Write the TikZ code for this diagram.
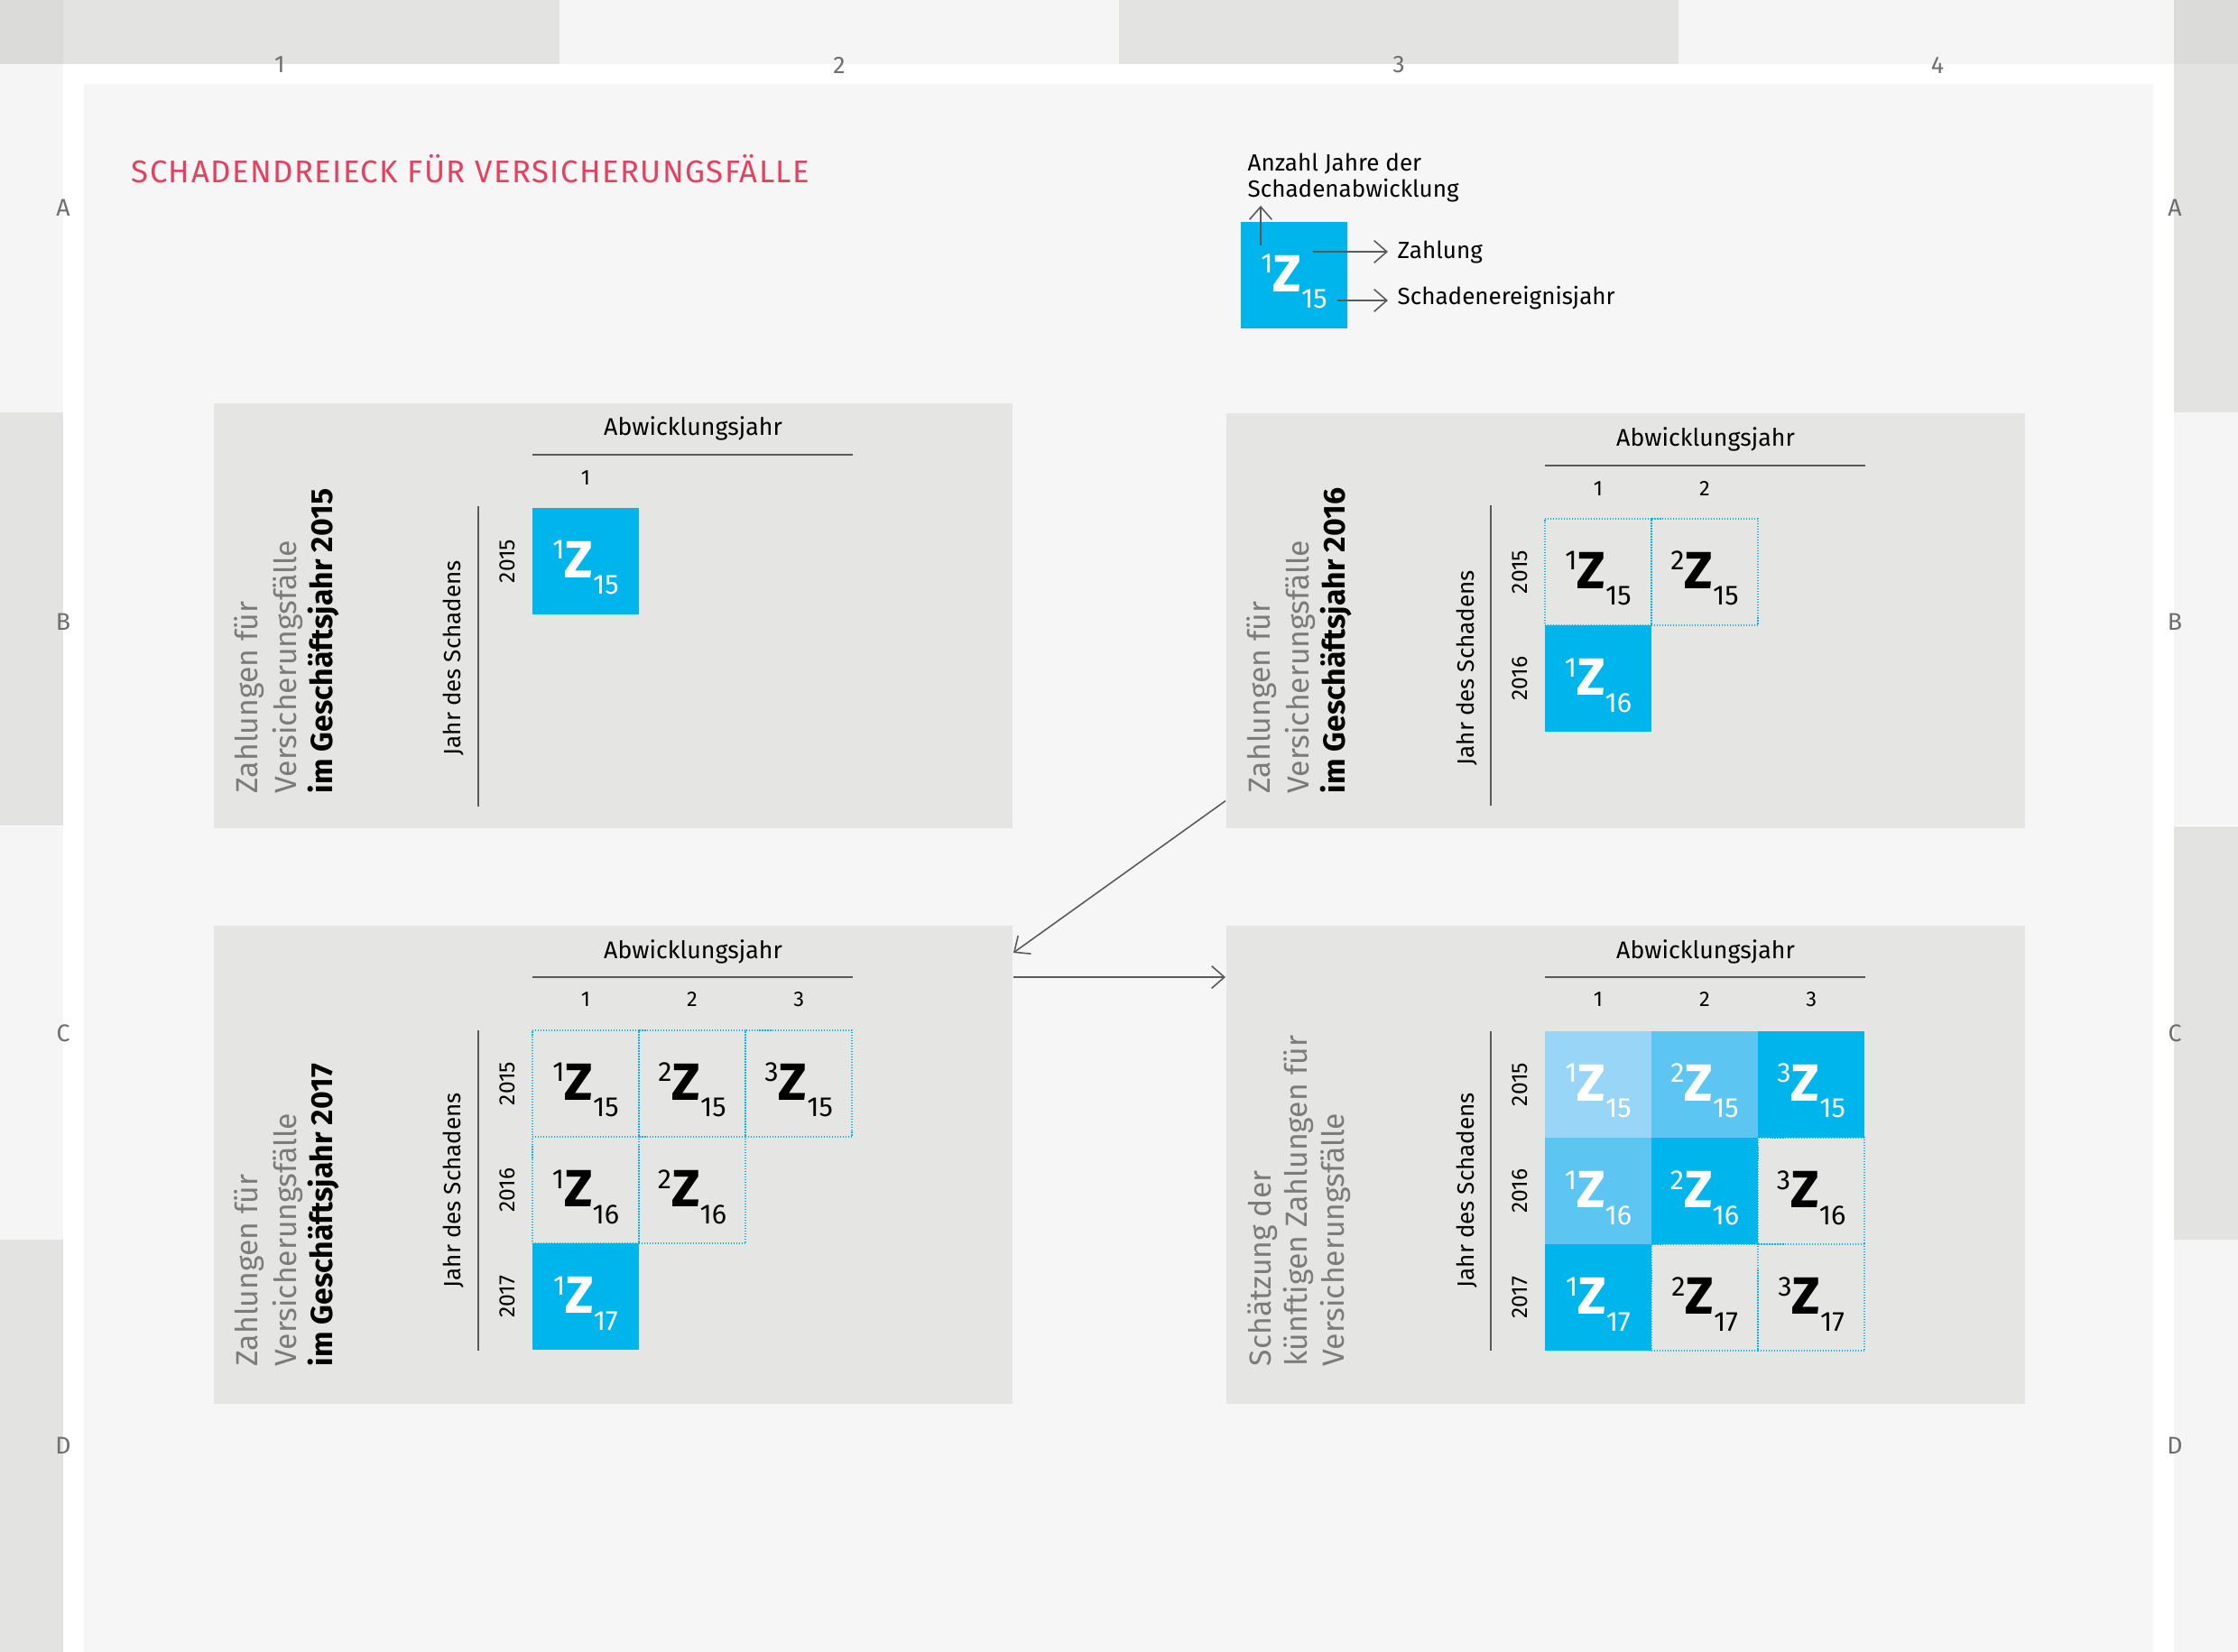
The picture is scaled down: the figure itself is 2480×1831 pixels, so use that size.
\documentclass[tikz,border=0pt]{standalone}
\usepackage{fontspec}
\setmainfont{Fira Sans}
\newfontfamily\titelschrift{Fira Sans}[LetterSpace=4.0]
\usepackage{tikz}
\usetikzlibrary{arrows.meta,positioning}

\definecolor{randgrau}{HTML}{E3E3E1}
\definecolor{randhell}{HTML}{F5F5F5}
\definecolor{randecke}{HTML}{DBDBD9}
\definecolor{flaeche}{HTML}{F6F6F6}
\definecolor{kastengrau}{HTML}{E5E5E3}
\definecolor{zblau}{HTML}{00B5EC}
\definecolor{zmittel}{HTML}{5CC5F2}
\definecolor{zhell}{HTML}{98D5F6}
\definecolor{titelrot}{HTML}{E5405F}
\definecolor{textgrau}{HTML}{7B7B7B}
\definecolor{randtext}{HTML}{6E6E6E}
\definecolor{linie}{HTML}{5A5A5A}

\newcommand{\zfeld}[2]{{\fontsize{8.7pt}{9pt}\selectfont\raisebox{5.7pt}{#1}}%
  {\fontsize{16.5pt}{17pt}\selectfont\bfseries Z}%
  {\fontsize{8.7pt}{9pt}\selectfont\raisebox{-5.4pt}{#2}}}

\begin{document}
\begin{tikzpicture}[x=0.01cm,y=-0.01cm,>={Straight Barb[length=4pt,width=7pt]},
                    node distance=1.18cm]
  \tikzstyle{kasten}=[fill=kastengrau,anchor=north west,minimum width=8.85cm,inner sep=0pt]
  \tikzstyle{zelle}=[minimum size=1.18cm,inner sep=0pt,text height=0.5cm,text depth=0.14cm]
  \tikzstyle{leer}=[zelle,draw=zblau,line width=0.45pt,dash pattern=on 0.3pt off 0.55pt,text=black]
  \tikzstyle{voll}=[zelle,fill=zblau,text=white]
  \tikzstyle{mittel}=[zelle,fill=zmittel,text=white]
  \tikzstyle{hell}=[zelle,fill=zhell,text=white]
  \tikzstyle{kopf}=[anchor=base,inner sep=0pt,font=\fontsize{7.6pt}{9pt}\selectfont]
  \tikzstyle{spalte}=[inner sep=0pt,font=\fontsize{6.7pt}{8pt}\selectfont]
  \tikzstyle{jahr}=[rotate=90,inner sep=0pt,font=\fontsize{7pt}{8pt}\selectfont]
  \tikzstyle{jahrtext}=[rotate=90,inner sep=0pt,font=\fontsize{7.4pt}{9pt}\selectfont]
  \tikzstyle{gross}=[rotate=90,anchor=base west,inner sep=0pt,text=textgrau,
                     font=\fontsize{9.6pt}{12pt}\selectfont]
  \tikzstyle{grossfett}=[gross,text=black,font=\fontsize{9.6pt}{12pt}\selectfont\bfseries]
  \tikzstyle{legende}=[anchor=base west,inner sep=0pt,font=\fontsize{7.4pt}{9pt}\selectfont]
  \tikzstyle{randziffer}=[inner sep=0pt,text=randtext,font=\fontsize{7.6pt}{9pt}\selectfont]
  \tikzstyle{achse}=[draw=linie,line width=0.45pt]
  \tikzstyle{pfeil}=[->,draw=linie,line width=0.45pt]

  \useasboundingbox (0,0) rectangle (2480,1831);
  \fill[white] (0,0) rectangle (2480,1831);

  % Rasterrand
  \foreach \x/\f in {70/randgrau,620/randhell,1240/randgrau,1860/randhell}
    \fill[\f] (\x,0) rectangle ++(620,71);
  \foreach \y/\l/\r in {71/randhell/randgrau,457/randgrau/randhell,
                        916/randhell/randgrau,1374/randgrau/randhell} {
    \fill[\l] (0,\y) rectangle ++(70,458);
    \fill[\r] (2409,\y) rectangle ++(71,458);
  }
  \fill[randecke] (0,0) rectangle (70,71);
  \fill[randecke] (2409,0) rectangle (2480,71);
  \foreach \n/\x in {1/310,2/930,3/1550,4/2147}
    \node[randziffer] (sp\n) at (\x,72) {\n};
  \foreach \b/\y in {A/230,B/689,C/1145,D/1602} {
    \node[randziffer] (li\b) at (70,\y) {\b};
    \node[randziffer] (re\b) at (2410,\y) {\b};
  }
  \fill[flaeche] (93,93) rectangle (2386,1831);

  \node[anchor=base west,inner sep=0pt,text=titelrot,
        font=\titelschrift\fontsize{9.9pt}{12pt}\selectfont]
        (titel) at (145,203) {SCHADENDREIECK FÜR VERSICHERUNGSFÄLLE};

  % Legende
  \node[voll] (leg) at (1434,305) {\zfeld{1}{15}};
  \coordinate (auf1) at (1397,272);
  \coordinate (auf2) at (1397,228);
  \coordinate (za1) at (1455,279);
  \coordinate (za2) at (1538,279);
  \coordinate (se1) at (1482,333);
  \coordinate (se2) at (1538,333);
  \draw[pfeil] (auf1) -- (auf2);
  \draw[pfeil] (za1) -- (za2);
  \draw[pfeil] (se1) -- (se2);
  \node[legende] (anz1) at (1382,190) {Anzahl Jahre der};
  \node[legende] (anz2) at (1382,219) {Schadenabwicklung};
  \node[legende] (zahl) at (1548,287) {Zahlung};
  \node[legende] (ereig) at (1548,338) {Schadenereignisjahr};

  % Kaesten
  \node[kasten,minimum height=4.71cm] (gj15) at (236,446) {};
  \node[kasten,minimum height=4.60cm] (gj16) at (1358,457) {};
  \node[kasten,minimum height=5.30cm] (gj17) at (236,1025) {};
  \node[kasten,minimum height=5.30cm] (prog) at (1358,1025) {};

  \draw[pfeil] ([yshift=0.31cm]gj16.south west) -- ([yshift=-0.31cm]gj17.north east);
  \draw[pfeil] ([yshift=-0.58cm]gj17.north east) -- ([yshift=-0.58cm]prog.north west);

  % Geschaeftsjahr 2015
  \begin{scope}[shift={(236,446)}]
    \node[kopf] (kopf1) at (532,37) {Abwicklungsjahr};
    \draw[achse] (354,58) -- (709,58);
    \node[spalte] (s1a) at (413,84) {1};
    \node[voll] (z15a) at (413,176) {\zfeld{1}{15}};
    \draw[achse] (294,115) -- (294,448);
    \node[jahrtext] (js1) at (267,283) {Jahr des Schadens};
    \node[jahr] (j1a) at (326,176) {2015};
    \node[gross] (t1a) at (49,434) {Zahlungen für};
    \node[gross] (t1b) at (92,434) {Versicherungsfälle};
    \node[grossfett] (t1c) at (132,434) {im Geschäftsjahr 2015};
  \end{scope}

  % Geschaeftsjahr 2016
  \begin{scope}[shift={(1358,457)}]
    \node[kopf] (kopf2) at (532,38) {Abwicklungsjahr};
    \draw[achse] (354,59) -- (709,59);
    \node[spalte] (s2a) at (413,85) {1};
    \node[spalte] (s2b) [right of=s2a] {2};
    \node[leer] (y15a) at (413,177) {\zfeld{1}{15}};
    \node[leer] (y15b) [right of=y15a] {\zfeld{2}{15}};
    \node[voll] (y16a) [below of=y15a] {\zfeld{1}{16}};
    \draw[achse] (294,103) -- (294,436);
    \node[jahrtext] (js2) at (268,283) {Jahr des Schadens};
    \node[jahr] (j2a) at (326,177) {2015};
    \node[jahr] (j2b) at (326,295) {2016};
    \node[gross] (t2a) at (49,423) {Zahlungen für};
    \node[gross] (t2b) at (92,423) {Versicherungsfälle};
    \node[grossfett] (t2c) at (132,423) {im Geschäftsjahr 2016};
  \end{scope}

  % Geschaeftsjahr 2017
  \begin{scope}[shift={(236,1025)}]
    \node[kopf] (kopf3) at (532,38) {Abwicklungsjahr};
    \draw[achse] (354,58) -- (709,58);
    \node[spalte] (s3a) at (413,83) {1};
    \node[spalte] (s3b) [right of=s3a] {2};
    \node[spalte] (s3c) [right of=s3b] {3};
    \node[leer] (x15a) at (413,176) {\zfeld{1}{15}};
    \node[leer] (x15b) [right of=x15a] {\zfeld{2}{15}};
    \node[leer] (x15c) [right of=x15b] {\zfeld{3}{15}};
    \node[leer] (x16a) [below of=x15a] {\zfeld{1}{16}};
    \node[leer] (x16b) [right of=x16a] {\zfeld{2}{16}};
    \node[voll] (x17a) [below of=x16a] {\zfeld{1}{17}};
    \draw[achse] (294,117) -- (294,472);
    \node[jahrtext] (js3) at (267,294) {Jahr des Schadens};
    \node[jahr] (j3a) at (326,176) {2015};
    \node[jahr] (j3b) at (326,294) {2016};
    \node[jahr] (j3c) at (326,412) {2017};
    \node[gross] (t3a) at (49,490) {Zahlungen für};
    \node[gross] (t3b) at (92,490) {Versicherungsfälle};
    \node[grossfett] (t3c) at (132,490) {im Geschäftsjahr 2017};
  \end{scope}

  % Schaetzung
  \begin{scope}[shift={(1358,1025)}]
    \node[kopf] (kopf4) at (532,38) {Abwicklungsjahr};
    \draw[achse] (354,58) -- (709,58);
    \node[spalte] (s4a) at (413,83) {1};
    \node[spalte] (s4b) [right of=s4a] {2};
    \node[spalte] (s4c) [right of=s4b] {3};
    \node[hell]   (p15a) at (413,177) {\zfeld{1}{15}};
    \node[mittel] (p15b) [right of=p15a] {\zfeld{2}{15}};
    \node[voll]   (p15c) [right of=p15b] {\zfeld{3}{15}};
    \node[mittel] (p16a) [below of=p15a] {\zfeld{1}{16}};
    \node[voll]   (p16b) [right of=p16a] {\zfeld{2}{16}};
    \node[leer]   (p16c) [right of=p16b] {\zfeld{3}{16}};
    \node[voll]   (p17a) [below of=p16a] {\zfeld{1}{17}};
    \node[leer]   (p17b) [right of=p17a] {\zfeld{2}{17}};
    \node[leer]   (p17c) [right of=p17b] {\zfeld{3}{17}};
    \draw[achse] (294,118) -- (294,472);
    \node[jahrtext] (js4) at (268,294) {Jahr des Schadens};
    \node[jahr] (j4a) at (326,177) {2015};
    \node[jahr] (j4b) at (326,295) {2016};
    \node[jahr] (j4c) at (326,413) {2017};
    \node[gross] (t4a) at (50,490) {Schätzung der};
    \node[gross] (t4b) at (90,490) {künftigen Zahlungen für};
    \node[gross] (t4c) at (131,490) {Versicherungsfälle};
  \end{scope}
\end{tikzpicture}
\end{document}
